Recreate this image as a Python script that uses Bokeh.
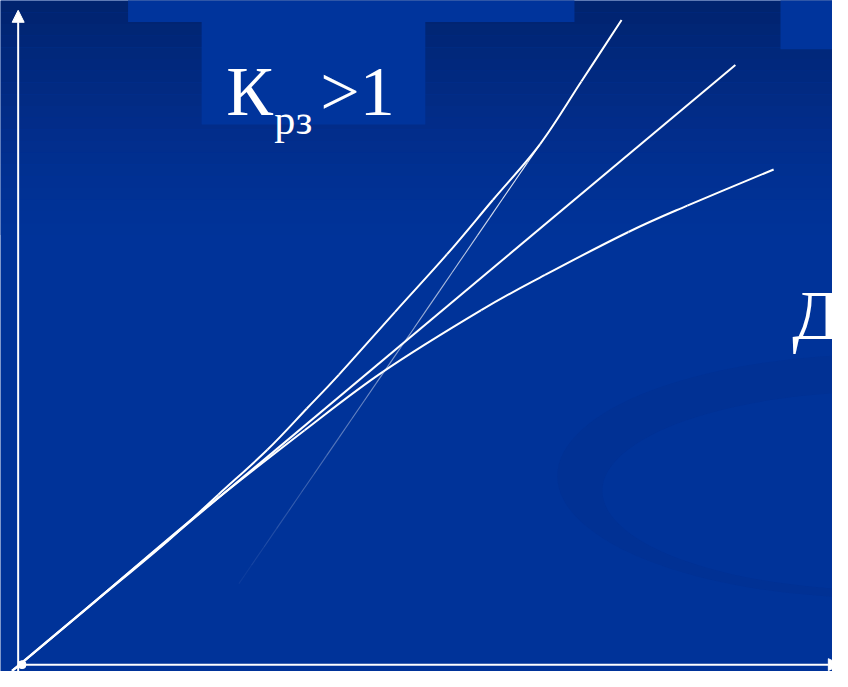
import numpy as np
from bokeh.plotting import figure
from bokeh.models import Range1d, Arrow, NormalHead
from bokeh.core.properties import value
from bokeh.embed import file_html
from bokeh.resources import INLINE

# ---- data (chart units: x to the right of origin, y up from origin) ----
LINEAR_X = [-10, 727]
LINEAR_Y = [-6, 614]

CONVEX_X = [-10, 0, 75, 150, 200, 250, 290, 323, 380, 433, 480, 528, 570, 611]
CONVEX_Y = [-6, 2, 65, 128, 174, 220, 262, 297, 361, 420, 476, 533, 597, 660]

CONCAVE_X = [-10, 0, 78, 178, 288, 368, 468, 533, 618, 678, 766]
CONCAVE_Y = [-6, 2, 68, 153, 240, 300, 363, 399, 443, 470, 507]

TANGENT_X = [221, 528]
TANGENT_Y = [83, 533]

ORIGIN_X = [0]
ORIGIN_Y = [0]

TITLE_MAIN = "К"
TITLE_SUB = "рз"
TITLE_REL = ">1"
SIDE_LABEL = "Д"

# ---- decoration (template background) ----
BG_STOPS_PY = [0, 60, 120, 180, 240]
BG_STOPS_RGB = [(1, 35, 110), (1, 40, 124), (2, 44, 136), (1, 48, 146), (0, 51, 153)]
BOX_LEFT = [108, 183, 773]
BOX_RIGHT = [563, 411, 830]
BOX_BOTTOM = [658, 553, 630]
BOX_TOP = [685, 658, 685]

W, H = 832, 671
p = figure(width=W, height=H, x_range=Range1d(-22, 826), y_range=Range1d(-7, 680),
           output_backend="svg", toolbar_location=None, min_border=0)
p.axis.visible = False
p.grid.visible = False
p.outline_line_color = None
p.background_fill_color = "#003399"
p.border_fill_color = "#003399"

# banded vertical gradient at top
edges = np.arange(0, 252, 12)
for i in range(len(edges) - 1):
    mid = (edges[i] + edges[i + 1]) / 2
    rgb = [int(round(np.interp(mid, BG_STOPS_PY, [c[k] for c in BG_STOPS_RGB]))) for k in range(3)]
    p.quad(left=-22, right=826, top=680 - edges[i], bottom=680 - edges[i + 1],
           fill_color="#%02x%02x%02x" % tuple(rgb), line_color=None)

p.quad(left=BOX_LEFT, right=BOX_RIGHT, bottom=BOX_BOTTOM, top=BOX_TOP,
       fill_color="#00349c", line_color=None)

# subtle swoosh (crescent) in lower right
p.ellipse(x=[878], y=[193], width=[665], height=[250], fill_color="#012f8f",
          fill_alpha=0.55, line_color=None)
p.ellipse(x=[884], y=[178], width=[585], height=[204], fill_color="#003399",
          line_color=None)

# axes
p.add_layout(Arrow(end=NormalHead(size=12, fill_color="white", line_color="white"),
                   x_start=-4, y_start=-7, x_end=-4, y_end=670,
                   line_color="white", line_width=2))
p.add_layout(Arrow(end=NormalHead(size=12, fill_color="white", line_color="white"),
                   x_start=-4, y_start=0, x_end=834, y_end=0,
                   line_color="white", line_width=2))

# fading tangent line
n = 24
tx = np.linspace(TANGENT_X[0], TANGENT_X[1], n + 1)
ty = np.linspace(TANGENT_Y[0], TANGENT_Y[1], n + 1)
alphas = np.linspace(0.05, 0.95, n)
p.segment(x0=tx[:-1], y0=ty[:-1], x1=tx[1:], y1=ty[1:], line_color="white",
          line_alpha=alphas, line_width=1.1)


def smooth(xs, ys):
    """Piecewise cubic Bezier (Catmull-Rom) control points through the points."""
    x = np.asarray(xs, float)
    y = np.asarray(ys, float)
    xp = np.concatenate([[x[0]], x, [x[-1]]])
    yp = np.concatenate([[y[0]], y, [y[-1]]])
    k = len(x) - 1
    d = dict(x0=x[:-1], y0=y[:-1], x1=x[1:], y1=y[1:])
    d["cx0"] = x[:-1] + (xp[2:k + 2] - xp[0:k]) / 6
    d["cy0"] = y[:-1] + (yp[2:k + 2] - yp[0:k]) / 6
    d["cx1"] = x[1:] - (xp[3:k + 3] - xp[1:k + 1]) / 6
    d["cy1"] = y[1:] - (yp[3:k + 3] - yp[1:k + 1]) / 6
    return d


p.line(LINEAR_X, LINEAR_Y, line_color="white", line_width=2)
for xs, ys in ((CONCAVE_X, CONCAVE_Y), (CONVEX_X, CONVEX_Y)):
    p.bezier(source=smooth(xs, ys), x0="x0", y0="y0", x1="x1", y1="y1",
             cx0="cx0", cy0="cy0", cx1="cx1", cy1="cy1",
             line_color="white", line_width=2)

p.scatter(ORIGIN_X, ORIGIN_Y, size=8, fill_color="white", line_color="white")

serif = value("'Liberation Serif', 'DejaVu Serif', serif")
p.text(x=[208], y=[587], text=[TITLE_MAIN], text_font=serif, text_font_size=value("70px"),
       text_color="white", text_baseline="alphabetic")
p.text(x=[257], y=[558], text=[TITLE_SUB], text_font=serif, text_font_size=value("42px"),
       text_color="white", text_baseline="alphabetic")
p.text(x=[304], y=[587], text=[TITLE_REL], text_font=serif, text_font_size=value("70px"),
       text_color="white", text_baseline="alphabetic")
p.text(x=[785], y=[358], text=[SIDE_LABEL], text_font=serif, text_font_size=value("70px"),
       text_color="white", text_baseline="alphabetic")

open("out.html", "w").write(file_html(p, INLINE))
